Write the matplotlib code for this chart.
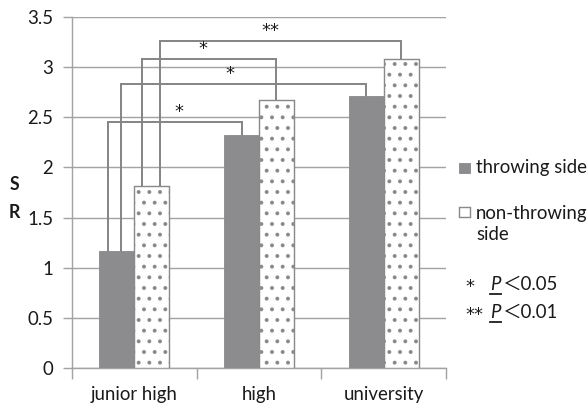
import matplotlib
matplotlib.use("Agg")
import matplotlib.pyplot as plt
from matplotlib.patches import Rectangle
from matplotlib.lines import Line2D
import numpy as np

# data
groups = ["junior high", "high", "university"]
throwing = [1.17, 2.32, 2.71]
non_throwing = [1.81, 2.67, 3.08]
series_names = ["throwing side", "non-throwing\nside"]

# significance brackets: (group, series) -> (group, series)
br_from = [(0, 0), (0, 0), (0, 1), (0, 1)]
br_to = [(1, 0), (2, 0), (1, 1), (2, 1)]
br_level = [2.45, 2.83, 3.08, 3.26]
br_label = ["*", "*", "*", "**"]

plt.rcParams["font.family"] = ["Lato", "Noto Sans CJK JP", "DejaVu Sans"]
plt.rcParams["hatch.linewidth"] = 1.0

W, H, DPI = 587, 405, 128
fig = plt.figure(figsize=(W / DPI, H / DPI), dpi=DPI)
ax = fig.add_axes([72 / W, 1 - 368 / H, (446 - 72) / W, (368 - 17) / H])

bar_c = "#8c8c8e"
grid_c = "#a3a3a3"
line_c = "#858585"
txt_c = "#1a1a1a"
star_font = ["DejaVu Sans"]

x = np.arange(len(groups))
bw = 0.28
ax.bar(x - bw / 2, throwing, bw, color=bar_c, edgecolor=bar_c, linewidth=0.5, zorder=3)
ax.bar(x + bw / 2, non_throwing, bw, color="white", edgecolor="#8a8a8a",
       hatch="..", linewidth=0.8, zorder=3)

vals = [throwing, non_throwing]
start_off = [-0.07, 0.035, -0.08, 0.066]
lbl_off = [0.03, -0.11, -0.05, -0.08]
for i in range(len(br_from)):
    g0, s0 = br_from[i]
    g1, s1 = br_to[i]
    x0 = g0 + (s0 - 0.5) * bw + start_off[i]
    x1 = g1 + (s1 - 0.5) * bw
    y = br_level[i]
    ax.plot([x0, x0, x1, x1], [vals[s0][g0], y, y, vals[s1][g1]],
            color=line_c, lw=1.1, zorder=2, solid_joinstyle="miter")
    ax.text((x0 + x1) / 2 + lbl_off[i], y + 0.1, br_label[i], ha="center",
            va="center", fontsize=10, color=txt_c, zorder=4, family=star_font)

ax.set_xlim(-0.5, 2.5)
ax.set_ylim(0, 3.5)
ax.set_yticks(np.arange(0, 3.51, 0.5))
ax.set_yticklabels(["0", "0.5", "1", "1.5", "2", "2.5", "3", "3.5"])
ax.set_xticks([-0.5, 0.5, 1.5, 2.5])
ax.set_xticklabels([])
ax.set_xticks(x, minor=True)
ax.set_xticklabels(groups, minor=True)
ax.tick_params(axis="x", which="major", length=6, width=0.8, color=grid_c)
ax.tick_params(axis="x", which="minor", length=0, pad=10, labelsize=10.5, labelcolor=txt_c)
ax.tick_params(axis="y", length=5, width=0.8, color=grid_c, pad=5.5,
               labelsize=10.5, labelcolor=txt_c)
ax.yaxis.grid(True, color=grid_c, lw=0.8, zorder=0)
ax.set_axisbelow(True)
for s in ["top", "right"]:
    ax.spines[s].set_visible(False)
for s in ["left", "bottom"]:
    ax.spines[s].set_color(grid_c)
    ax.spines[s].set_linewidth(0.8)

# y label, stacked letters
fig.text(14 / W, 1 - 185 / H, "S", fontsize=10, fontweight="bold", ha="center",
         va="center", color=txt_c)
fig.text(14 / W, 1 - 212 / H, "R", fontsize=10, fontweight="bold", ha="center",
         va="center", color=txt_c)

# legend, placed by hand
fig.patches.append(Rectangle((459 / W, 1 - 173 / H), 11 / W, 10 / H, transform=fig.transFigure,
                             facecolor=bar_c, edgecolor=bar_c, lw=0.5))
fig.patches.append(Rectangle((459 / W, 1 - 217 / H), 11 / W, 10 / H, transform=fig.transFigure,
                             facecolor="white", edgecolor="#8a8a8a", lw=0.8))
fig.text(476 / W, 1 - 168 / H, series_names[0], fontsize=10.5, va="center", color=txt_c)
fig.text(476 / W, 1 - 224 / H, series_names[1], fontsize=10.5, va="center", color=txt_c,
         linespacing=1.25)

# p-value notes
for row, (stars, thr) in enumerate([("*", "0.05"), ("**", "0.01")]):
    base = 1 - (290 + row * 28) / H
    fig.text(465 / W, base - 2 / H, stars, fontsize=10, va="baseline", color=txt_c,
             family=star_font)
    fig.text(490 / W, base, "P", fontsize=10.5, style="italic", va="baseline", color=txt_c)
    fig.text(502 / W, base, "＜" + thr, fontsize=10.5, va="baseline", color=txt_c)
    fig.lines.append(Line2D([490 / W, 501 / W], [base - 4 / H, base - 4 / H],
                            transform=fig.transFigure, color=txt_c, lw=1.0))

fig.savefig("out.png", dpi=DPI)
